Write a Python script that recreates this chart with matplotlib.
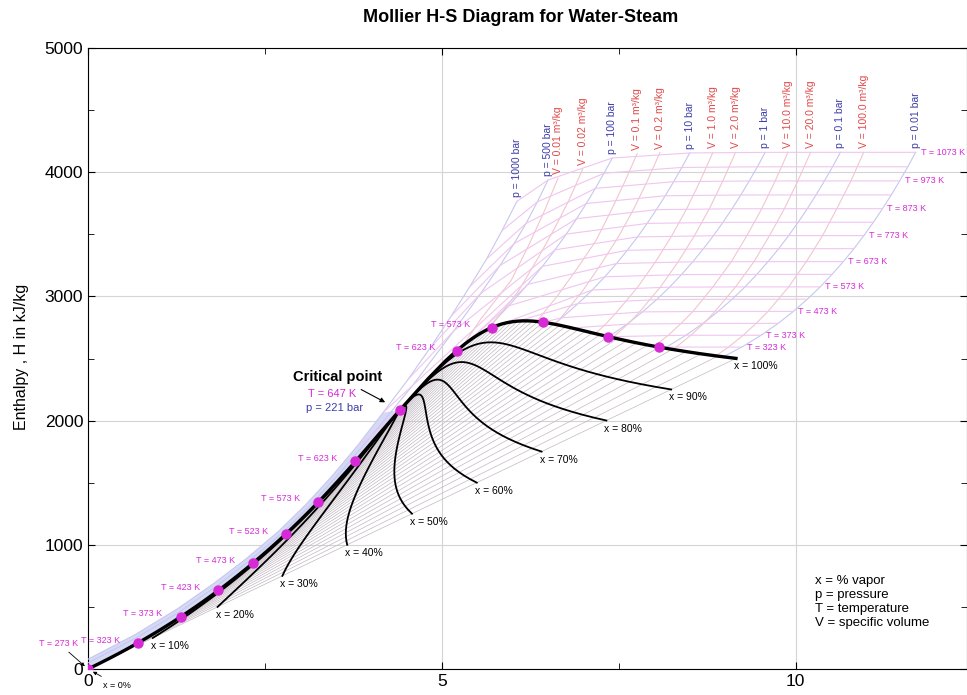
import matplotlib
matplotlib.use("Agg")
import matplotlib.pyplot as plt
import numpy as np

plt.rcParams['font.family'] = ['Liberation Sans', 'DejaVu Sans']

nan = np.nan

# saturation table (steam tables), T in deg C, h in kJ/kg, s in kJ/kgK
sat_t = np.array([0.01, 10, 20, 30, 40, 50, 60, 70, 80, 90, 100, 110, 120, 130, 140,
                  150, 160, 170, 180, 190, 200, 210, 220, 230, 240, 250, 260, 270,
                  280, 290, 300, 310, 320, 330, 340, 350, 360, 370, 373.95])
sat_hf = np.array([0.0, 42.0, 83.9, 125.7, 167.5, 209.3, 251.2, 293.1, 335.0, 377.0,
                   419.2, 461.4, 503.8, 546.4, 589.2, 632.2, 675.5, 719.1, 763.1, 807.4,
                   852.3, 897.6, 943.6, 990.1, 1037.5, 1085.7, 1135.0, 1185.3, 1236.9,
                   1290.0, 1344.8, 1402.0, 1462.2, 1526.0, 1594.5, 1670.9, 1761.7,
                   1890.7, 2084.3])
sat_hg = np.array([2500.9, 2519.2, 2537.4, 2555.6, 2573.5, 2591.3, 2608.8, 2626.1,
                   2643.0, 2659.6, 2675.6, 2691.1, 2705.9, 2720.1, 2733.5, 2745.9,
                   2757.4, 2767.9, 2777.2, 2785.3, 2792.0, 2797.3, 2801.1, 2803.2,
                   2803.2, 2801.0, 2796.6, 2789.7, 2779.9, 2766.7, 2749.6, 2727.9,
                   2700.6, 2666.0, 2621.9, 2563.6, 2482.0, 2334.5, 2084.3])
sat_sf = np.array([0.0, 0.1511, 0.2965, 0.4368, 0.5724, 0.7038, 0.8313, 0.9551, 1.0756,
                   1.1929, 1.3072, 1.4188, 1.5279, 1.6346, 1.7392, 1.8418, 1.9426,
                   2.0417, 2.1392, 2.2355, 2.3305, 2.4245, 2.5177, 2.6101, 2.7020,
                   2.7935, 2.8849, 2.9765, 3.0685, 3.1612, 3.2552, 3.3510, 3.4494,
                   3.5518, 3.6601, 3.7784, 3.9167, 4.1112, 4.4070])
sat_sg = np.array([9.1556, 8.8999, 8.6660, 8.4520, 8.2557, 8.0748, 7.9081, 7.7540,
                   7.6111, 7.4781, 7.3541, 7.2381, 7.1291, 7.0264, 6.9293, 6.8371,
                   6.7491, 6.6650, 6.5840, 6.5059, 6.4302, 6.3563, 6.2840, 6.2128,
                   6.1423, 6.0717, 6.0016, 5.9304, 5.8579, 5.7834, 5.7059, 5.6244,
                   5.5372, 5.4422, 5.3356, 5.2110, 5.0536, 4.8012, 4.4070])

# states along the labelled isobars (superheated / compressed), T in K
sh_t = [273, 323, 373, 423, 473, 523, 573, 623, 673, 723, 773, 823, 873, 923, 973, 1023, 1073]
s_p0_01 = [nan, 9.2368, 9.5116, 9.7520, 9.9676, 10.1642, 10.3454, 10.5127, 10.6721,
           10.8217, 10.9625, 11.0977, 11.2258, 11.3497, 11.4683, 11.5837, 11.6939]
h_p0_01 = [nan, 2592.0, 2687.5, 2783.0, 2879.6, 2977.5, 3076.7, 3177.5, 3280.0,
           3384.3, 3489.7, 3597.2, 3706.3, 3817.2, 3929.9, 4044.1, 4160.2]
s_p0_1 = [nan, 8.1741, 8.4489, 8.6893, 8.9049, 9.1015, 9.2827, 9.4500, 9.6094,
          9.7590, 9.8998, 10.0350, 10.1631, 10.2870, 10.4056, 10.5210, 10.6312]
h_p0_1 = [nan, 2592.0, 2687.5, 2783.0, 2879.6, 2977.5, 3076.7, 3177.5, 3280.0,
          3384.3, 3489.7, 3597.2, 3706.3, 3817.2, 3929.9, 4044.1, 4160.2]
s_p1 = [nan, nan, 7.3611, 7.6148, 7.8356, 8.0346, 8.2172, 8.3850, 8.5452, 8.6950,
        8.8362, 8.9720, 9.0999, 9.2240, 9.3424, 9.4580, 9.5682]
h_p1 = [nan, nan, 2675.8, 2776.6, 2875.5, 2974.5, 3074.5, 3175.8, 3278.9, 3383.3,
        3488.7, 3596.5, 3705.6, 3816.6, 3929.4, 4043.6, 4159.8]
s_p10 = [nan, nan, nan, nan, 6.6956, 6.9265, 7.1246, 7.3029, 7.4670, 7.6198, 7.7642,
         7.9003, 8.0311, 8.1560, 8.2755, 8.3910, 8.5024]
h_p10 = [nan, nan, nan, nan, 2828.3, 2943.1, 3051.6, 3158.2, 3264.5, 3371.3, 3479.1,
         3587.9, 3698.6, 3810.5, 3923.5, 4038.5, 4155.2]
s_p100 = [nan, nan, nan, nan, nan, nan, nan, 5.9458, 6.2141, 6.4219, 6.5995, 6.7585,
          6.9045, 7.0408, 7.1693, 7.2913, 7.4085]
h_p100 = [nan, nan, nan, nan, nan, nan, nan, 2924.0, 3097.5, 3242.4, 3375.1, 3502.0,
          3625.8, 3748.1, 3870.0, 3991.9, 4114.5]
s_p500 = [0.000, 0.690, 1.290, 1.815, 2.295, 2.745, 3.150, 3.560, 4.000, 4.590, 5.170,
          5.550, 5.820, 6.020, 6.190, 6.350, 6.500]
h_p500 = [49, 253, 459, 667, 878, 1095, 1322, 1580, 1874, 2285, 2723, 3025, 3248, 3425,
          3588, 3762, 3937]
s_p1000 = [0.005, 0.675, 1.265, 1.780, 2.255, 2.690, 3.080, 3.450, 3.810, 4.170, 4.520,
           4.840, 5.130, 5.390, 5.630, 5.850, 6.060]
h_p1000 = [80, 280, 485, 690, 897, 1108, 1325, 1555, 1800, 2065, 2330, 2590, 2840, 3075,
           3300, 3530, 3765]

# saturated vapour point where each subcritical isobar starts
sat_sg_p = [5.6159, 6.5850, 7.3588, 8.1488, 8.9749]   # 100, 10, 1, 0.1, 0.01 bar
sat_hg_p = [2725.5, 2777.1, 2674.9, 2583.9, 2513.7]

# isochores (from saturated vapour up to 1073 K)
v_labels = ['V = 0.01 m³/kg', 'V = 0.02 m³/kg', 'V = 0.1 m³/kg', 'V = 0.2 m³/kg',
            'V = 1.0 m³/kg', 'V = 2.0 m³/kg', 'V = 10.0 m³/kg', 'V = 20.0 m³/kg',
            'V = 100.0 m³/kg']
v_s = [[5.29, 5.55, 5.98, 6.23, 6.45, 6.64],
       [5.665, 5.87, 6.08, 6.36, 6.59, 6.80, 6.99],
       [6.34, 6.64, 6.92, 7.18, 7.39, 7.58, 7.76],
       [6.60, 6.68, 6.99, 7.26, 7.50, 7.71, 7.90, 8.08],
       [7.17, 7.32, 7.48, 7.77, 8.02, 8.25, 8.46, 8.65, 8.83],
       [7.42, 7.45, 7.64, 7.80, 8.09, 8.34, 8.57, 8.78, 8.97, 9.15],
       [8.00, 8.20, 8.38, 8.55, 8.83, 9.09, 9.31, 9.52, 9.71, 9.89],
       [8.26, 8.31, 8.52, 8.70, 8.86, 9.15, 9.41, 9.63, 9.84, 10.03, 10.21],
       [8.87, 9.05, 9.26, 9.44, 9.61, 9.90, 10.15, 10.38, 10.58, 10.78, 10.96]]
v_h = [[2598, 2818, 3130, 3415, 3690, 3950],
       [2739, 2890, 3041, 3310, 3545, 3780, 4025],
       [2798, 3010, 3232, 3452, 3690, 3918, 4150],
       [2776, 2826, 3045, 3270, 3485, 3703, 3926, 4158],
       [2701, 2780, 2880, 3077, 3280, 3490, 3706, 3930, 4160],
       [2668, 2687, 2783, 2880, 3077, 3280, 3490, 3706, 3930, 4160],
       [2599, 2688, 2783, 2880, 3077, 3280, 3490, 3706, 3930, 4160],
       [2573, 2592, 2688, 2783, 2880, 3077, 3280, 3490, 3706, 3930, 4160],
       [2521, 2592, 2688, 2783, 2880, 3077, 3280, 3490, 3706, 3930, 4160]]

quality = [10, 20, 30, 40, 50, 60, 70, 80, 90]
liquid_dot_T = [273, 323, 373, 423, 473, 523, 573, 623]
vapor_dot_T = [323, 373, 473, 573, 623]
vapor_label_T = [573, 623]
iso_label_T = [323, 373, 473, 573, 673, 773, 873, 973, 1073]

c_isobar = '#c6c8ee'
c_isochore = '#f2c6ce'
c_isotherm = '#efc6ef'
c_hatch = '#c2b8c2'
c_mag = '#d62ad6'
c_blue = '#3c3ca8'
c_red = '#e04848'

fig = plt.figure(figsize=(9.67, 6.95), dpi=100)
ax = fig.add_axes([0.091, 0.0374, 0.909, 0.8935])
ax.set_xlim(0, 12.42)
ax.set_ylim(0, 5000)

# band of compressed-liquid isobars above the saturated liquid line
ax.fill(np.r_[sat_sf, s_p1000[9::-1]], np.r_[sat_hf, h_p1000[9::-1]],
        color='#d6d9f6', lw=0, zorder=1)

# wet region: isobars = isotherms, straight lines
for sf, hf, sg, hg in zip(sat_sf, sat_hf, sat_sg, sat_hg):
    ax.plot([sf, sg], [hf, hg], color=c_hatch, lw=0.5, zorder=2)

isobars = [('p = 1000 bar', s_p1000, h_p1000, None),
           ('p = 500 bar', s_p500, h_p500, None),
           ('p = 100 bar', s_p100, h_p100, 0),
           ('p = 10 bar', s_p10, h_p10, 1),
           ('p = 1 bar', s_p1, h_p1, 2),
           ('p = 0.1 bar', s_p0_1, h_p0_1, 3),
           ('p = 0.01 bar', s_p0_01, h_p0_01, 4)]

for label, s, h, k in isobars:
    s = np.array(s)
    h = np.array(h)
    ok = ~np.isnan(s)
    xs, ys = s[ok], h[ok]
    if k is not None:
        xs = np.r_[sat_sg_p[k], xs]
        ys = np.r_[sat_hg_p[k], ys]
    ax.plot(xs, ys, color=c_isobar, lw=0.8, zorder=3)
    ax.annotate(label, (xs[-1], ys[-1]), xytext=(0, 4), textcoords='offset pixels',
                rotation=90, ha='center', va='bottom', color=c_blue, fontsize=7.5)

for label, s, h in zip(v_labels, v_s, v_h):
    ax.plot(s, h, color=c_isochore, lw=0.8, zorder=3)
    ax.annotate(label, (s[-1], h[-1]), xytext=(0, 4), textcoords='offset pixels',
                rotation=90, ha='center', va='bottom', color=c_red, fontsize=7.5)

# isotherms in the superheated / supercritical region
for j, T in enumerate(sh_t):
    if T < 300:
        continue
    xs, ys = [], []
    if T < 647:
        k = np.argmin(np.abs(sat_t - (T - 273)))
        xs.append(sat_sg[k])
        ys.append(sat_hg[k])
        use = isobars[2:]
    else:
        use = isobars
    for label, s, h, _ in use:
        if not np.isnan(s[j]):
            xs.append(s[j])
            ys.append(h[j])
    ax.plot(xs, ys, color=c_isotherm, lw=0.8, zorder=3)
    if T in iso_label_T:
        ax.annotate(f'T = {T} K', (xs[-1], ys[-1]), xytext=(5, 0),
                    textcoords='offset pixels', ha='left', va='center',
                    color=c_mag, fontsize=6.5)

# quality lines
for q in quality:
    s = sat_sf + q / 100 * (sat_sg - sat_sf)
    h = sat_hf + q / 100 * (sat_hg - sat_hf)
    ax.plot(s, h, color='black', lw=1.3, zorder=4)
    ax.annotate(f'x = {q}%', (s[0], h[0]), xytext=(-2, -3), textcoords='offset pixels',
                ha='left', va='top', fontsize=7.5)

ax.plot(sat_sf, sat_hf, color='black', lw=2.4, zorder=5)
ax.plot(sat_sg, sat_hg, color='black', lw=2.4, zorder=5)
ax.annotate('x = 100%', (sat_sg[0], sat_hg[0]), xytext=(-2, -3), textcoords='offset pixels',
            ha='left', va='top', fontsize=7.5)

# marked saturation states
for T in liquid_dot_T:
    k = np.argmin(np.abs(sat_t - (T - 273)))
    ax.plot(sat_sf[k], sat_hf[k], 'o', color=c_mag, ms=6.5, mec=c_mag, zorder=6)
    if T == 273:
        ax.annotate(f'T = {T} K', (sat_sf[k], sat_hf[k]), xytext=(-10, 26),
                    textcoords='offset pixels', ha='right', va='center', color=c_mag,
                    fontsize=6.5,
                    arrowprops=dict(arrowstyle='-|>', color='black', lw=0.6,
                                    mutation_scale=5, shrinkA=2, shrinkB=3))
    else:
        ax.annotate(f'T = {T} K', (sat_sf[k], sat_hf[k]), xytext=(-18, 3),
                    textcoords='offset pixels', ha='right', va='center', color=c_mag,
                    fontsize=6.5)
for T in vapor_dot_T:
    k = np.argmin(np.abs(sat_t - (T - 273)))
    ax.plot(sat_sg[k], sat_hg[k], 'o', color=c_mag, ms=6.5, mec=c_mag, zorder=6)
    if T in vapor_label_T:
        ax.annotate(f'T = {T} K', (sat_sg[k], sat_hg[k]), xytext=(-22, 3),
                    textcoords='offset pixels', ha='right', va='center', color=c_mag,
                    fontsize=6.5)

ax.annotate('x = 0%', (sat_sf[0], sat_hf[0]), xytext=(15, -16), textcoords='offset pixels',
            ha='left', va='center', fontsize=6.5,
            arrowprops=dict(arrowstyle='-|>', color='black', lw=0.6, mutation_scale=5,
                            shrinkA=2, shrinkB=4))

# critical point
sc, hc = sat_sf[-1], sat_hf[-1]
ax.plot(sc, hc, 'o', color=c_mag, ms=6.5, zorder=6)
ax.annotate('Critical point', (sc, hc), xytext=(-62, 33), textcoords='offset pixels',
            ha='center', va='center', fontsize=10.5, fontweight='bold',
            arrowprops=dict(arrowstyle='-|>', color='black', lw=0.8, mutation_scale=7,
                            shrinkA=4, shrinkB=12))
ax.annotate('T = 647 K', (sc, hc), xytext=(-68, 16), textcoords='offset pixels',
            ha='center', va='center', fontsize=8, color=c_mag)
ax.annotate('p = 221 bar', (sc, hc), xytext=(-65, 2), textcoords='offset pixels',
            ha='center', va='center', fontsize=8, color=c_blue)

ax.text(0.827, 0.152, 'x = % vapor\np = pressure\nT = temperature\nV = specific volume',
        transform=ax.transAxes, ha='left', va='top', fontsize=9.5, linespacing=1.25)

# axes styling
ax.set_xticks([0, 5, 10])
ax.set_xticks([2.5, 7.5], minor=True)
ax.set_yticks([0, 1000, 2000, 3000, 4000, 5000])
ax.set_yticks([500, 1500, 2500, 3500, 4500], minor=True)
ax.tick_params(which='both', direction='in', top=True, right=True, labelsize=12.5)
ax.tick_params(which='major', length=5)
ax.tick_params(which='minor', length=4)
ax.grid(True, which='major', color='#d4d4d4', lw=0.8, zorder=0)
ax.set_axisbelow(True)

fig.text(0.538, 1 - 18 / 695, 'Mollier H-S Diagram for Water-Steam', ha='center',
         va='center', fontsize=13, fontweight='bold')
fig.text(22 / 967, 1 - 357 / 695, 'Enthalpy , H in kJ/kg', rotation=90, ha='center',
         va='center', fontsize=11.5)

fig.savefig('out.png', dpi=100)
